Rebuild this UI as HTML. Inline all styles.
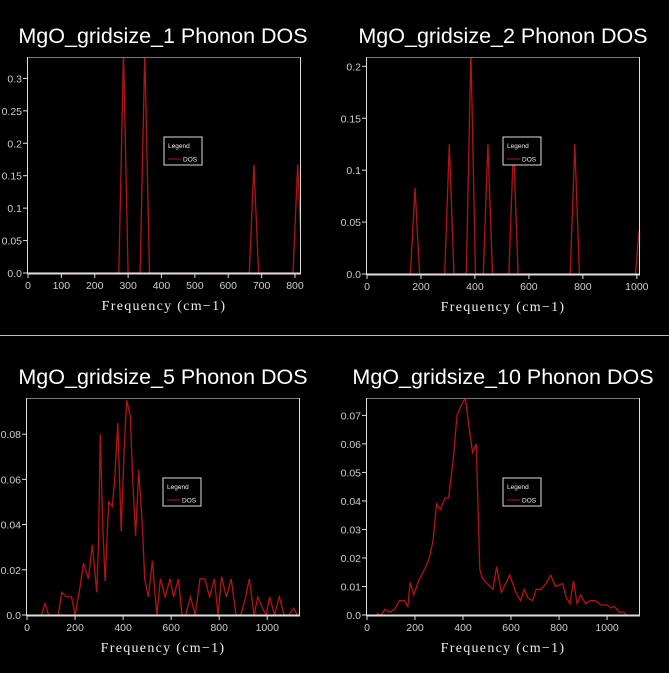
<!DOCTYPE html>
<html><head><meta charset="utf-8"><style>
html,body{margin:0;padding:0;background:#000;width:669px;height:673px;overflow:hidden}
svg{display:block}
</style></head><body>
<svg id="s" width="669" height="673" xmlns="http://www.w3.org/2000/svg" font-family="Liberation Sans, sans-serif"></svg>
<script>
const S=document.getElementById('s');let h='';
h+='<line x1="0" y1="335.5" x2="669" y2="335.5" stroke="#bbb" stroke-width="1"/>';
function tri(peaks,w){let p=[];peaks.forEach(([c,v])=>{p.push([c-w,0],[c,v],[c+w,0]);});return p;}
function panel(o){
 const {L,R,T,B,title,tx,xmin,xmax,ymax,xt,yt,yl,data,lx,ly}=o;
 const X=f=>L+(f-xmin)/(xmax-xmin)*(R-L), Y=v=>B-v/ymax*(B-T);
 h+=`<text x="${tx}" y="${T-14}" fill="#fff" font-size="21.5" text-anchor="middle">${title}</text>`;
 h+=`<defs><clipPath id="c${L}${T}"><rect x="${L}" y="${T}" width="${R-L}" height="${B-T}"/></clipPath></defs>`;
 let d=data.map((p,i)=>(i?'L':'M')+X(p[0]).toFixed(1)+' '+Y(p[1]).toFixed(1)).join(' ');
 h+=`<path d="${d}" fill="none" stroke="#b01515" stroke-width="1.3" clip-path="url(#c${L}${T})"/>`;
 h+=`<line x1="${L}" y1="${T+.5}" x2="${R}" y2="${T+.5}" stroke="#777"/>`;
 h+=`<line x1="${R+.5}" y1="${T}" x2="${R+.5}" y2="${B}" stroke="#ddd"/>`;
 h+=`<line x1="${L-.5}" y1="${T}" x2="${L-.5}" y2="${B+1}" stroke="#ddd"/>`;
 h+=`<line x1="${L}" y1="${B+.5}" x2="${R+1}" y2="${B+.5}" stroke="#ddd" stroke-width="2"/>`;
 xt.forEach(v=>{const x=X(v);h+=`<line x1="${x}" y1="${B}" x2="${x}" y2="${B+5}" stroke="#ddd"/><text x="${x}" y="${B+16}" fill="#ccc" font-size="10.5" text-anchor="middle">${v}</text>`;});
 yt.forEach((v,i)=>{const y=Y(v);h+=`<line x1="${L-5}" y1="${y}" x2="${L}" y2="${y}" stroke="#ddd"/><text x="${L-6}" y="${y+4}" fill="#ccc" font-size="10.5" text-anchor="end">${yl[i]}</text>`;});
 h+=`<text x="${(L+R)/2}" y="${B+37}" fill="#eee" font-size="14" font-family="Liberation Serif, serif" text-anchor="middle" letter-spacing="1.3">Frequency (cm−1)</text>`;
 h+=`<rect x="${lx}" y="${ly}" width="38" height="28" fill="#000" stroke="#ddd"/>`;
 h+=`<text x="${lx+4}" y="${ly+11}" fill="#eee" font-size="6.5">Legend</text>`;
 h+=`<line x1="${lx+4}" y1="${ly+22}" x2="${lx+17}" y2="${ly+22}" stroke="#b01515"/>`;
 h+=`<text x="${lx+19}" y="${ly+24.5}" fill="#eee" font-size="6.5">DOS</text>`;
}
panel({L:28,R:300,T:57,B:273,title:'MgO_gridsize_1 Phonon DOS',tx:163,xmin:0,xmax:815,ymax:0.333,
 xt:[0,100,200,300,400,500,600,700,800],yt:[0,.05,.1,.15,.2,.25,.3],yl:['0.0','0.05','0.1','0.15','0.2','0.25','0.3'],
 data:[[0,0],[272,0]].concat(tri([[286,0.34],[350,0.34],[677,0.167],[808,0.167]],14)).concat([[830,0.05]]),lx:164,ly:137});
panel({L:367,R:639,T:57,B:274,title:'MgO_gridsize_2 Phonon DOS',tx:503,xmin:0,xmax:1008,ymax:0.209,
 xt:[0,200,400,600,800,1000],yt:[0,.05,.1,.15,.2],yl:['0.0','0.05','0.1','0.15','0.2'],
 data:[[0,0]].concat(tri([[178,0.083],[305,0.125],[385,0.215],[448,0.125],[543,0.125],[770,0.125]],17)).concat([[995,0],[1008,0.042]]),lx:503,ly:137});
panel({L:27,R:299,T:398,B:615,title:'MgO_gridsize_5 Phonon DOS',tx:163,xmin:0,xmax:1132,ymax:0.096,
 xt:[0,200,400,600,800,1000],yt:[0,.02,.04,.06,.08],yl:['0.0','0.02','0.04','0.06','0.08'],
 data:[[60,0],[75,0.005],[90,0],[130,0],[145,0.01],[165,0.008],[185,0.008],[200,0],[220,0.012],[235,0.023],[255,0.016],[272,0.031],[290,0.01],[297,0.03],[305,0.08],[315,0.04],[325,0.015],[340,0.05],[355,0.048],[365,0.06],[378,0.085],[392,0.037],[405,0.075],[415,0.095],[430,0.088],[440,0.06],[452,0.035],[465,0.064],[480,0.04],[490,0.016],[505,0.008],[522,0.024],[540,0],[555,0.016],[575,0.008],[595,0.016],[610,0.008],[630,0.016],[645,0],[660,0],[680,0.008],[700,0],[720,0.016],[740,0.016],[760,0.008],[780,0.016],[795,0],[810,0.017],[830,0.008],[850,0.016],[870,0],[890,0],[910,0.008],[925,0.016],[945,0],[960,0.008],[980,0.003],[995,0],[1010,0.008],[1030,0],[1050,0.008],[1070,0],[1090,0],[1110,0.003],[1125,0]],lx:163,ly:478});
panel({L:367,R:639,T:398,B:615,title:'MgO_gridsize_10 Phonon DOS',tx:503,xmin:0,xmax:1133,ymax:0.0761,
 xt:[0,200,400,600,800,1000],yt:[0,.01,.02,.03,.04,.05,.06,.07],yl:['0.0','0.01','0.02','0.03','0.04','0.05','0.06','0.07'],
 data:[[40,0.0005],[60,0],[75,0.002],[95,0.001],[115,0.002],[135,0.005],[155,0.005],[170,0.003],[180,0.0115],[195,0.007],[215,0.012],[240,0.016],[260,0.02],[275,0.026],[290,0.039],[305,0.037],[325,0.041],[340,0.041],[360,0.055],[375,0.07],[395,0.074],[410,0.076],[425,0.066],[440,0.057],[455,0.06],[470,0.016],[480,0.013],[500,0.011],[525,0.009],[540,0.017],[560,0.008],[595,0.014],[620,0.008],[640,0.005],[655,0.009],[670,0.006],[690,0.005],[705,0.009],[725,0.009],[745,0.011],[765,0.014],[785,0.010],[815,0.011],[830,0.006],[845,0.004],[860,0.012],[875,0.004],[890,0.007],[910,0.004],[930,0.005],[950,0.005],[975,0.0035],[1000,0.0035],[1015,0.0025],[1030,0.003],[1050,0.001],[1070,0.001],[1080,0]],lx:503,ly:478});
S.innerHTML=h;
</script>
</body></html>
